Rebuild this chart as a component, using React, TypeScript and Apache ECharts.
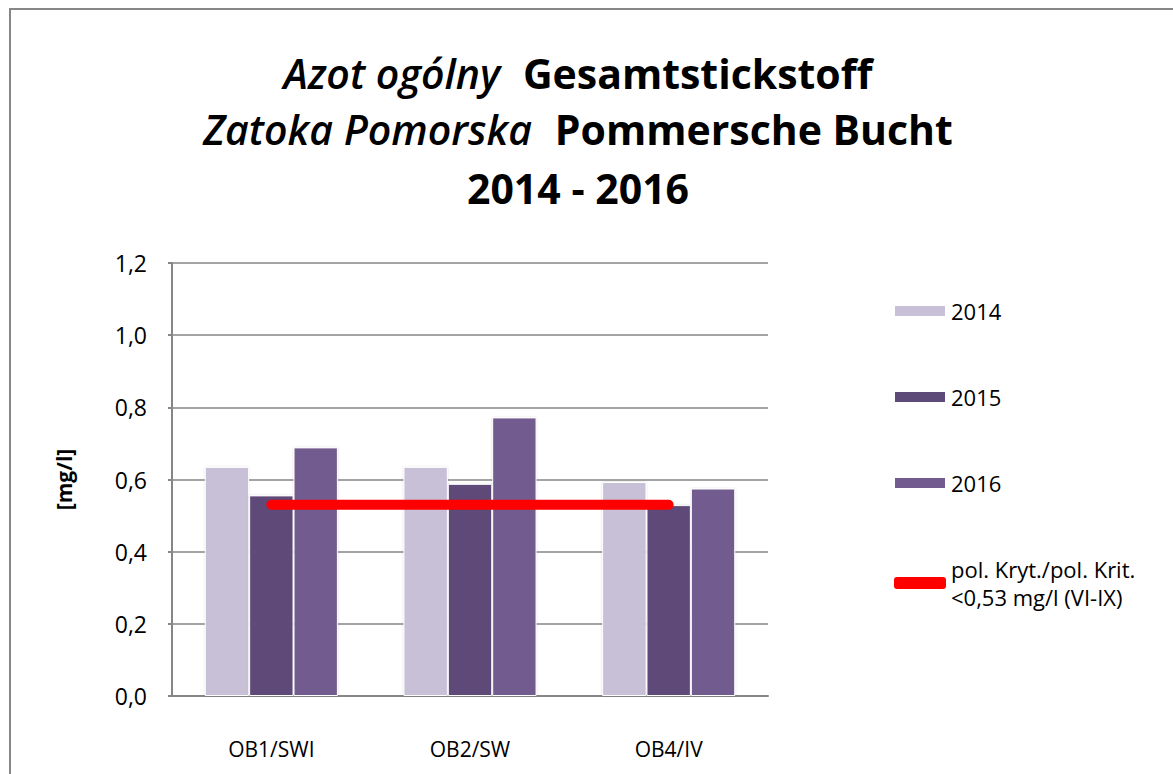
import React, { useEffect, useRef } from "react";
import * as echarts from "echarts";

const categories = ["OB1/SWI", "OB2/SW", "OB4/IV"];
const values2014 = [0.635, 0.635, 0.593];
const values2015 = [0.556, 0.588, 0.529];
const values2016 = [0.689, 0.772, 0.575];
const threshold = [0.53, 0.53, 0.53];
const yTicks = [0, 0.2, 0.4, 0.6, 0.8, 1.0, 1.2];
const seriesNames = ["2014", "2015", "2016", "pol. Kryt./pol. Krit.\n<0,53 mg/l (VI-IX)"];

const FONT = "'Open Sans', Lato, sans-serif";

export default function App() {
  const ref = useRef<HTMLDivElement>(null);
  useEffect(() => {
    if (!ref.current) return;
    const chart = echarts.init(ref.current, undefined, { renderer: "svg" });
    const barStyle = (color: string) => ({
      color,
      borderColor: "#ffffff",
      borderWidth: 1,
      shadowColor: "rgba(0,0,0,0.15)",
      shadowBlur: 2,
    });
    const titleRich = {
      i: { fontFamily: FONT, fontStyle: "italic", fontWeight: 600, fontSize: 41, lineHeight: 44, color: "#000" },
      b: { fontFamily: FONT, fontStyle: "normal", fontWeight: 700, fontSize: 41, lineHeight: 44, color: "#000" },
    };
    const mkTitle = (text: string, top: number) => ({
      text,
      left: 573,
      top,
      textAlign: "center",
      textStyle: { rich: titleRich, fontSize: 41, lineHeight: 44 },
    });
    chart.setOption({
      animation: false,
      title: [
        mkTitle("{i|Azot ogólny}  {b|Gesamtstickstoff}", 46),
        mkTitle("{i|Zatoka Pomorska}  {b|Pommersche Bucht}", 102),
        mkTitle("{b|2014 - 2016}", 161),
      ],
      graphic: [
        {
          type: "polyline",
          shape: { points: [[10, 800], [10, 9], [1200, 9]] },
          style: { stroke: "#878787", lineWidth: 2, fill: "none" },
        },
      ],
      legend: {
        orient: "vertical",
        left: 888,
        top: 292,
        itemGap: 58,
        itemWidth: 52,
        itemHeight: 12,
        textStyle: { fontFamily: FONT, fontSize: 22, color: "#000", lineHeight: 28 },
        data: seriesNames.map((n, i) =>
          i < 3
            ? { name: n, icon: "rect" }
            : {
                name: n,
                icon: "roundRect",
                itemStyle: { color: "#ff0000" },
              }
        ),
      },
      grid: { left: 172, right: 405, top: 263, bottom: 78 },
      xAxis: {
        type: "category",
        data: categories,
        axisLine: { lineStyle: { color: "#868686", width: 2 } },
        axisTick: { show: false },
        axisLabel: { fontFamily: FONT, fontSize: 21, color: "#000", margin: 42 },
      },
      yAxis: {
        type: "value",
        min: 0,
        max: 1.2,
        interval: 0.2,
        name: "[mg/l]",
        nameLocation: "middle",
        nameGap: 98,
        nameRotate: 90,
        nameTextStyle: { fontFamily: FONT, fontSize: 21, fontWeight: "bold", color: "#000" },
        axisLine: { show: true, lineStyle: { color: "#868686", width: 2 } },
        axisTick: { show: true, length: 4, lineStyle: { color: "#868686", width: 2 } },
        splitLine: { lineStyle: { color: "#868686", width: 1.5 } },
        axisLabel: {
          fontFamily: FONT,
          fontSize: 23,
          color: "#000",
          margin: 25,
          formatter: (v: number) => {
            const t = yTicks.find((x) => Math.abs(x - v) < 1e-6);
            return (t ?? v).toFixed(1).replace(".", ",");
          },
        },
      },
      series: [
        { name: seriesNames[0], type: "bar", data: values2014, barGap: "0%", barCategoryGap: "33%", itemStyle: barStyle("#c7c0d7") },
        { name: seriesNames[1], type: "bar", data: values2015, barGap: "0%", barCategoryGap: "33%", itemStyle: barStyle("#5e4a78") },
        { name: seriesNames[2], type: "bar", data: values2016, barGap: "0%", barCategoryGap: "33%", itemStyle: barStyle("#725b8f") },
        {
          name: seriesNames[3],
          type: "line",
          data: threshold,
          symbol: "none",
          lineStyle: { color: "#ff0000", width: 10, cap: "round" },
          itemStyle: { color: "#ff0000" },
          z: 5,
        },
      ],
    });
    return () => chart.dispose();
  }, []);
  return (
    <div
      ref={ref}
      style={{ position: "absolute", left: 0, top: 0, width: 1173, height: 774, background: "#fff" }}
    />
  );
}
